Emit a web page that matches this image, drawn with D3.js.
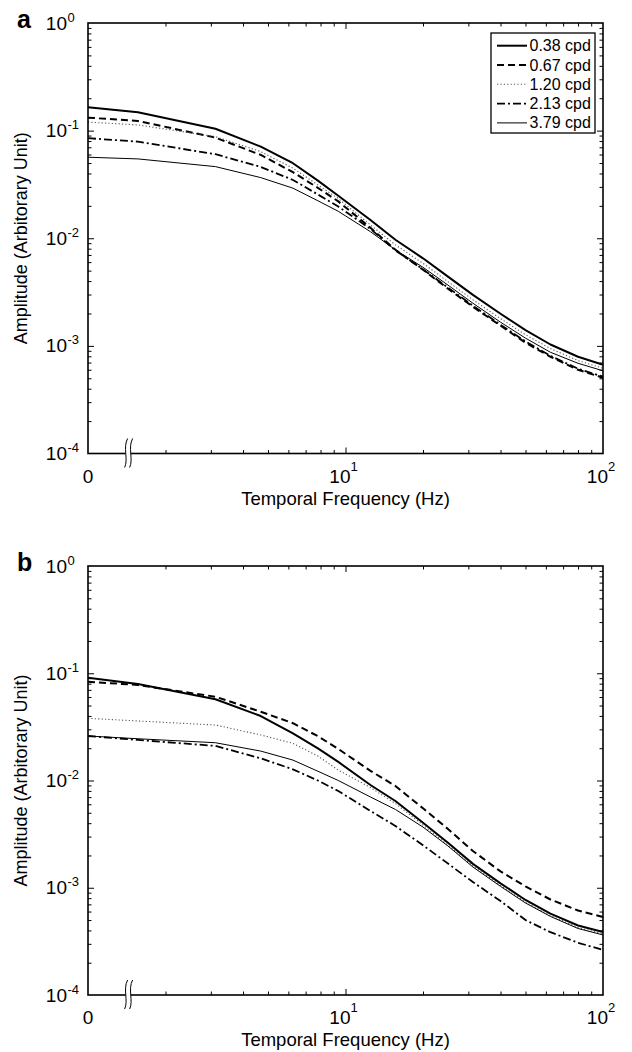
<!DOCTYPE html>
<html>
<head>
<meta charset="utf-8">
<script src="https://cdn.jsdelivr.net/npm/d3@7"></script>
<style>
  body { margin: 0; background: #fff; }
  svg { display: block; font-family: "Liberation Sans", Arial, sans-serif; }
</style>
</head>
<body>
<div id="chart"></div>
<script>
// temporal frequency (Hz); the 0 Hz point sits on the broken left edge of the axis
const freqs = [0, 1.5625, 3.125, 4.6875, 6.25, 7.8125, 9.375, 12.5, 15.625, 20, 25, 31.25, 40, 50, 62.5, 80, 100];
const cpdLabels = ["0.38 cpd", "0.67 cpd", "1.20 cpd", "2.13 cpd", "3.79 cpd"];

// panel a
const ampA_038 = [0.165, 0.148, 0.104, 0.0710, 0.0498, 0.0343, 0.0248, 0.0148, 0.00968, 0.00651, 0.00440, 0.00298, 0.00199, 0.00140, 0.00103, 0.000792, 0.000668];
const ampA_067 = [0.132, 0.123, 0.0861, 0.0595, 0.0411, 0.0294, 0.0220, 0.0125, 0.00781, 0.00509, 0.00340, 0.00231, 0.00154, 0.00107, 0.000792, 0.000600, 0.000506];
const ampA_120 = [0.120, 0.113, 0.0880, 0.0638, 0.0448, 0.0313, 0.0234, 0.0133, 0.00868, 0.00585, 0.00395, 0.00268, 0.00179, 0.00127, 0.000944, 0.000730, 0.000619];
const ampA_213 = [0.0850, 0.0790, 0.0604, 0.0460, 0.0348, 0.0255, 0.0197, 0.0122, 0.00772, 0.00514, 0.00348, 0.00236, 0.00157, 0.00110, 0.000809, 0.000613, 0.000517];
const ampA_379 = [0.0566, 0.0546, 0.0463, 0.0366, 0.0292, 0.0223, 0.0178, 0.0115, 0.00781, 0.00537, 0.00367, 0.00249, 0.00166, 0.00118, 0.000872, 0.000689, 0.000587];

// panel b
const ampB_038 = [0.0909, 0.0794, 0.0572, 0.0399, 0.0275, 0.0199, 0.0149, 0.00908, 0.00644, 0.00404, 0.00263, 0.00167, 0.00110, 0.000769, 0.000574, 0.000445, 0.000387];
const ampB_067 = [0.0834, 0.0777, 0.0604, 0.0438, 0.0342, 0.0259, 0.0197, 0.0123, 0.00889, 0.00550, 0.00353, 0.00220, 0.00142, 0.00103, 0.000777, 0.000614, 0.000534];
const ampB_120 = [0.0380, 0.0359, 0.0329, 0.0266, 0.0222, 0.0169, 0.0125, 0.00860, 0.00610, 0.00385, 0.00250, 0.00160, 0.00105, 0.000736, 0.000551, 0.000426, 0.000371];
const ampB_213 = [0.0260, 0.0239, 0.0210, 0.0161, 0.0127, 0.0100, 0.00798, 0.00520, 0.00377, 0.00249, 0.00168, 0.00113, 0.000752, 0.000500, 0.000385, 0.000307, 0.000263];
const ampB_379 = [0.0260, 0.0245, 0.0225, 0.0188, 0.0155, 0.0122, 0.0100, 0.00702, 0.00537, 0.00368, 0.00245, 0.00156, 0.00103, 0.000721, 0.000540, 0.000417, 0.000363];

const panelA = [ampA_038, ampA_067, ampA_120, ampA_213, ampA_379];
const panelB = [ampB_038, ampB_067, ampB_120, ampB_213, ampB_379];

// line style per cpd
const lineStyles = [
  { width: 2,   dash: null,        color: "#000" },
  { width: 2,   dash: "7,4",       color: "#000" },
  { width: 1.1, dash: "1.2,2.2",   color: "#555" },
  { width: 1.8, dash: "8,3,2,3",   color: "#000" },
  { width: 1,   dash: null,        color: "#000" }
];

const width = 632, height = 1052;
const left = 88, right = 603;

const svg = d3.select("#chart").append("svg")
    .attr("width", width)
    .attr("height", height);

const x = d3.scaleLog().domain([1, 100]).range([left, right]);

function drawPanel(series, top, bottom, letter, withLegend) {
    const y = d3.scaleLog().domain([1e-4, 1]).range([bottom, top]);
    const g = svg.append("g");

    const isMajor = v => Math.abs(Math.log10(v) - Math.round(Math.log10(v))) < 1e-6;
    const xt = x.ticks().filter(v => v > 1 && v < 100);
    const yt = y.ticks().filter(v => v > 1e-4 && v < 1);
    const xMaj = xt.filter(isMajor), xMin = xt.filter(v => !isMajor(v));
    const yMaj = yt.filter(isMajor), yMin = yt.filter(v => !isMajor(v));

    // inward ticks on all four sides
    const tickSets = [
        [d3.axisBottom, x, xMaj, 6, `translate(0,${bottom})`],
        [d3.axisBottom, x, xMin, 3.5, `translate(0,${bottom})`],
        [d3.axisTop, x, xMaj, 6, `translate(0,${top})`],
        [d3.axisTop, x, xMin, 3.5, `translate(0,${top})`],
        [d3.axisLeft, y, yMaj, 6, `translate(${left},0)`],
        [d3.axisLeft, y, yMin, 3.5, `translate(${left},0)`],
        [d3.axisRight, y, yMaj, 6, `translate(${right},0)`],
        [d3.axisRight, y, yMin, 3.5, `translate(${right},0)`]
    ];
    tickSets.forEach(([fn, sc, vals, len, tr]) => {
        g.append("g")
            .attr("transform", tr)
            .call(fn(sc).tickValues(vals).tickSize(-len).tickFormat(""))
            .call(s => s.select(".domain").remove())
            .selectAll("line").attr("stroke", "#000").attr("stroke-width", 1);
    });

    // curves
    const line = d3.line()
        .x(d => x(Math.max(d[0], 1)))
        .y(d => y(d[1]));

    series.forEach((vals, i) => {
        const st = lineStyles[i];
        g.append("path")
            .datum(freqs.map((f, j) => [f, vals[j]]))
            .attr("d", line)
            .attr("fill", "none")
            .attr("stroke", st.color)
            .attr("stroke-width", st.width)
            .attr("stroke-dasharray", st.dash)
            .attr("stroke-linejoin", "round");
    });

    // frame
    g.append("rect")
        .attr("x", left).attr("y", top)
        .attr("width", right - left).attr("height", bottom - top)
        .attr("fill", "none").attr("stroke", "#000").attr("stroke-width", 1.6);

    // axis break on the bottom edge
    const xb = x(1.4);
    g.append("rect")
        .attr("x", xb).attr("y", bottom - 2)
        .attr("width", 5).attr("height", 4)
        .attr("fill", "#fff");
    [xb, xb + 5].forEach(bx => {
        g.append("path")
            .attr("d", `M${bx + 2},${bottom - 15} C${bx - 3},${bottom - 6} ${bx + 3},${bottom + 6} ${bx - 1},${bottom + 14}`)
            .attr("fill", "none").attr("stroke", "#000").attr("stroke-width", 1);
    });

    // y tick labels
    [1e-4, 1e-3, 1e-2, 1e-1, 1].forEach(v => {
        const ty = y(v);
        g.append("text")
            .attr("x", left - 21).attr("y", ty + 6.5)
            .attr("text-anchor", "end")
            .attr("font-size", 19)
            .text("10");
        g.append("text")
            .attr("x", left - 20.5).attr("y", ty - 1.5)
            .attr("font-size", 13)
            .text(String(Math.round(Math.log10(v))));
    });

    // x tick labels
    g.append("text")
        .attr("x", x(1)).attr("y", bottom + 29)
        .attr("text-anchor", "middle")
        .attr("font-size", 19)
        .text("0");
    [10, 100].forEach(v => {
        const t = g.append("text")
            .attr("x", x(v) - 2).attr("y", bottom + 29)
            .attr("text-anchor", "middle")
            .attr("font-size", 19);
        t.append("tspan").text("10");
        t.append("tspan").attr("dy", -12).attr("font-size", 13).text(String(Math.log10(v)));
    });

    // axis titles
    g.append("text")
        .attr("x", (left + right) / 2).attr("y", bottom + 51)
        .attr("text-anchor", "middle")
        .attr("font-size", 18.5)
        .text("Temporal Frequency (Hz)");
    g.append("text")
        .attr("transform", `translate(27,${(top + bottom) / 2}) rotate(-90)`)
        .attr("text-anchor", "middle")
        .attr("font-size", 18)
        .text("Amplitude (Arbitorary Unit)");

    // panel letter
    g.append("text")
        .attr("x", 17).attr("y", top + 5)
        .attr("font-size", 25)
        .attr("font-weight", "bold")
        .text(letter);

    if (withLegend) {
        const lx = right - 112, ly = top + 10;
        const legend = g.append("g").attr("transform", `translate(${lx},${ly})`);
        legend.append("rect")
            .attr("width", 104).attr("height", 100)
            .attr("fill", "#fff").attr("stroke", "#000").attr("stroke-width", 1.3);
        cpdLabels.forEach((lab, i) => {
            const st = lineStyles[i];
            const ry = 12.7 + i * 19.3;
            legend.append("line")
                .attr("x1", 6).attr("x2", 36)
                .attr("y1", ry).attr("y2", ry)
                .attr("stroke", st.color)
                .attr("stroke-width", st.width)
                .attr("stroke-dasharray", st.dash);
            legend.append("text")
                .attr("x", 38.5).attr("y", ry + 5.5)
                .attr("font-size", 16)
                .text(lab);
        });
    }
}

drawPanel(panelA, 23, 453.5, "a", true);
drawPanel(panelB, 566, 995, "b", false);
</script>
</body>
</html>
